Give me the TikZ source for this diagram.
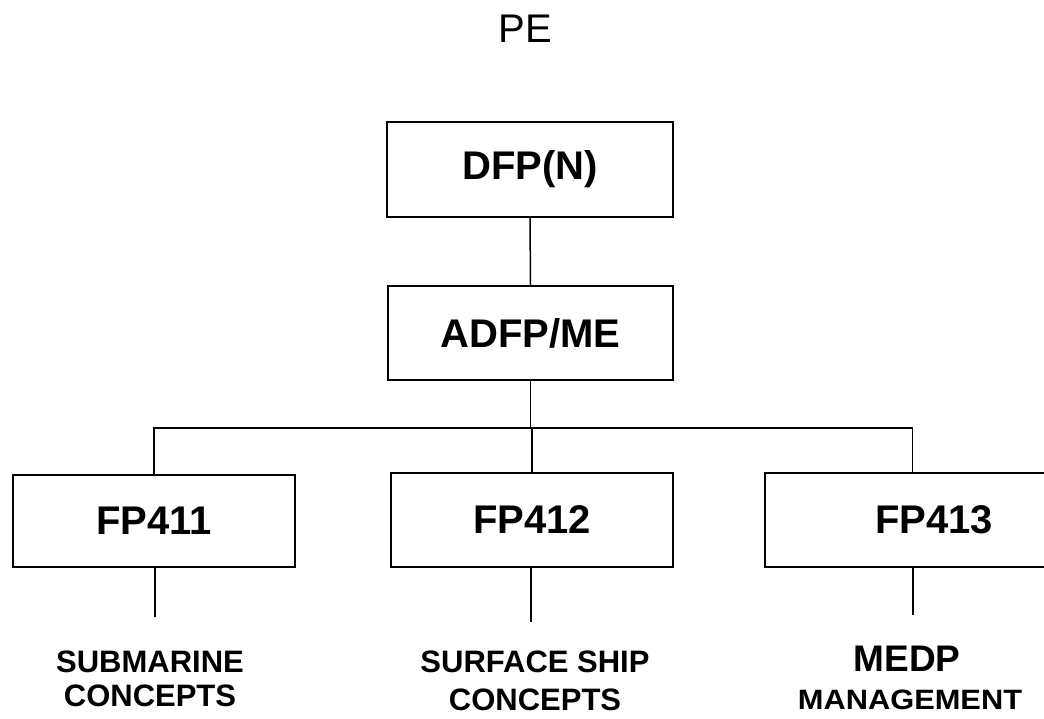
\documentclass[tikz,border=0pt]{standalone}
\usepackage{fontspec}
\setmainfont{Liberation Sans}
\tikzset{
  orgbox/.style={draw, line width=1.8pt, minimum width=#1, inner sep=0pt,
    font=\fontsize{40}{42}\selectfont\bfseries},
  orgbox/.default=285pt,
  link/.style={line width=1.5pt},
  lbl/.style={font=\fontsize{31}{33}\selectfont\bfseries, inner sep=0pt, align=center}
}
\begin{document}
\begin{tikzpicture}[x=1pt,y=-1pt]
\clip (0,0) rectangle (1044,719);
\fill[white] (0,0) rectangle (1044,719);
\node[font=\fontsize{40}{42}\selectfont, inner sep=0pt] (pe) at (525,29) {PE};
\node[orgbox=286pt, minimum height=95pt] (dfp) at (530,169.5) {DFP(N)};
\node[orgbox=285pt, minimum height=94pt] (adfp) at (530.5,333) {ADFP/ME};
\node[orgbox=282pt, minimum height=92pt] (fp411) at (154,521) {FP411};
\node[orgbox=282pt, minimum height=94pt] (fp412) at (532,520) {FP412};
\node[orgbox=295pt, minimum height=94pt, text width=0pt, align=left] (fp413) at (912.5,520) {\hspace*{-147.5pt}\makebox[295pt][l]{\hspace{110pt}FP413}};
\coordinate (bus) at (530.5,428);
\draw[link] (dfp.south) -- (adfp.north);
\draw[link] (adfp.south) -- (bus);
\draw[link] (fp411.north) |- (bus) -| (fp413.north);
\draw[link] (bus) -- (bus -| fp412.north);
\draw[link] (bus -| fp412.north) -- (fp412.north);
\coordinate (e1) at (155,617);
\coordinate (e2) at (531,622);
\coordinate (e3) at (913,615);
\draw[link] (fp411.south -| e1) -- (e1);
\draw[link] (fp412.south -| e2) -- (e2);
\draw[link] (fp413.south -| e3) -- (e3);
\node[lbl] (sub1) at (150,662) {SUBMARINE};
\node[lbl] (sub2) at (150,696) {CONCEPTS};
\node[lbl] (sur1) at (535,662) {SURFACE SHIP};
\node[lbl] (sur2) at (535,700) {CONCEPTS};
\node[lbl, font=\fontsize{37}{39}\selectfont\bfseries] (medp) at (907,659) {MEDP};
\node[lbl, font=\fontsize{28}{30}\selectfont\bfseries] (mgmt) at (910,700) {\scalebox{1.1}[1]{MANAGEMENT}};
\end{tikzpicture}
\end{document}
